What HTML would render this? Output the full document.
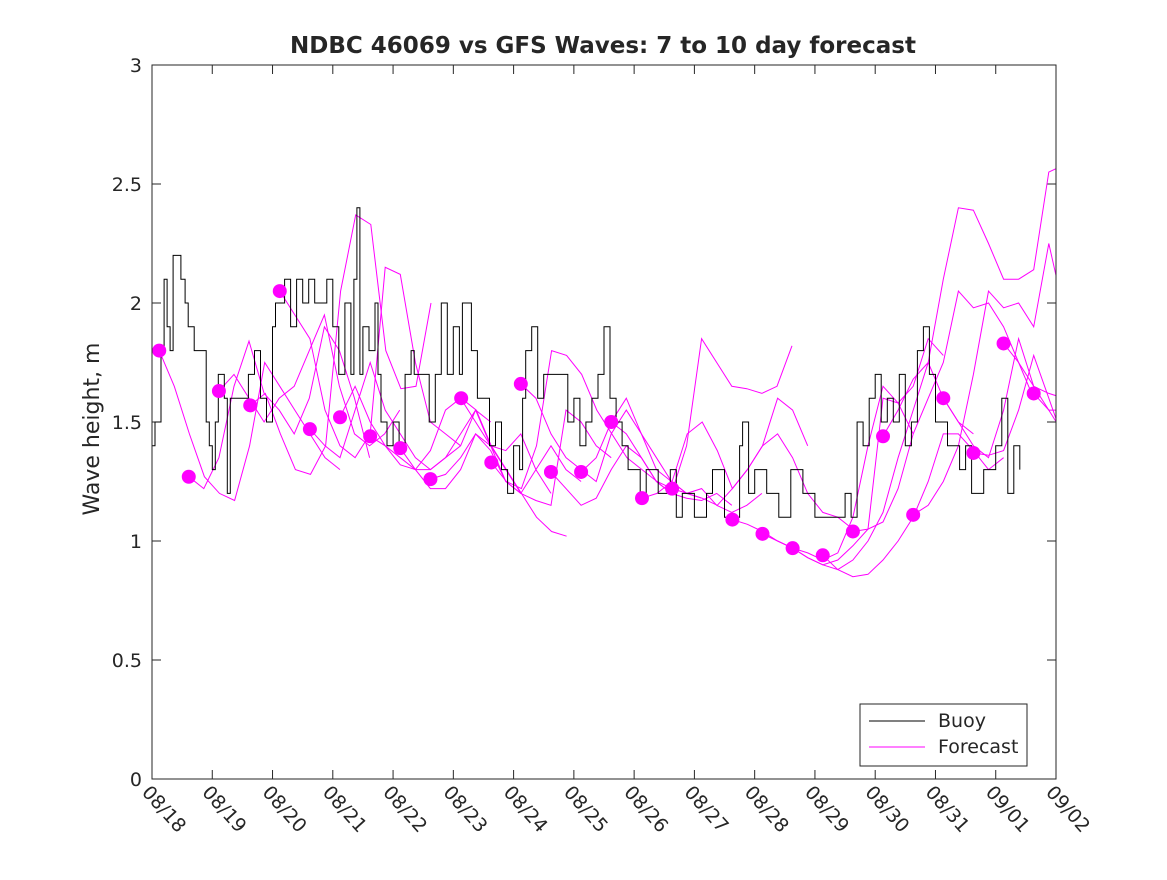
<!DOCTYPE html>
<html><head><meta charset="utf-8"><style>
body{margin:0;background:#fff}
svg text{font-family:"DejaVu Sans","Liberation Sans",sans-serif;fill:#262626}
</style></head><body>
<svg id="chart" width="1167" height="875" xmlns="http://www.w3.org/2000/svg">
<defs><clipPath id="pc"><rect x="152" y="65" width="904" height="714"/></clipPath></defs>
<rect x="0" y="0" width="1167" height="875" fill="#fff"/>
<rect x="152" y="65" width="904" height="714" fill="#fff"/>
<g id="grid"></g>
<g id="series" clip-path="url(#pc)"></g>
<rect x="152" y="65" width="904" height="714" fill="none" stroke="#262626" stroke-width="1"/>
<text x="603" y="53" text-anchor="middle" font-size="23" font-weight="bold" fill="#000">NDBC 46069 vs GFS Waves: 7 to 10 day forecast</text>
<text transform="translate(99,429) rotate(-90)" text-anchor="middle" font-size="22">Wave height, m</text>
<g>
<rect x="860" y="704" width="167" height="62" fill="#fff" stroke="#262626"/>
<line x1="869" y1="721" x2="925" y2="721" stroke="#000" stroke-width="1"/>
<text x="938" y="727" font-size="19">Buoy</text>
<line x1="869" y1="747" x2="925" y2="747" stroke="#f0f" stroke-width="1"/>
<text x="938" y="753" font-size="19">Forecast</text>
</g>
</svg>
<script>
const yTicks=[0,0.5,1,1.5,2,2.5,3];
const yTickLabels=["0","0.5","1","1.5","2","2.5","3"];
const xTickLabels=["08/18","08/19","08/20","08/21","08/22","08/23","08/24","08/25","08/26","08/27","08/28","08/29","08/30","08/31","09/01","09/02"];
const buoyTimes=[0,0.05,0.15,0.2,0.25,0.3,0.35,0.4,0.48,0.55,0.6,0.7,0.8,0.9,0.95,1.0,1.05,1.1,1.2,1.25,1.3,1.5,1.6,1.7,1.8,1.9,2.0,2.05,2.2,2.3,2.4,2.5,2.6,2.7,2.8,2.9,3.0,3.1,3.2,3.3,3.35,3.4,3.45,3.5,3.6,3.7,3.75,3.8,3.9,4.0,4.1,4.2,4.3,4.35,4.4,4.6,4.7,4.8,4.9,5.0,5.1,5.15,5.3,5.4,5.6,5.7,5.8,5.9,6.0,6.1,6.15,6.2,6.3,6.4,6.5,6.9,7.0,7.1,7.2,7.3,7.4,7.5,7.6,7.7,7.8,7.9,8.1,8.2,8.4,8.6,8.7,8.8,9.0,9.2,9.3,9.5,9.75,9.8,9.9,10.0,10.2,10.4,10.6,10.8,11.0,11.5,11.6,11.7,11.8,11.9,12.0,12.1,12.2,12.3,12.4,12.5,12.6,12.7,12.8,12.9,13.0,13.2,13.4,13.5,13.6,13.8,14.0,14.1,14.2,14.3,14.4];
const buoyValues=[1.4,1.5,1.8,2.1,1.9,1.8,2.2,2.2,2.1,2.0,1.9,1.8,1.8,1.5,1.4,1.3,1.5,1.7,1.6,1.2,1.6,1.6,1.7,1.8,1.6,1.5,1.9,2.0,2.1,1.9,2.1,2.0,2.1,2.0,2.0,2.1,1.9,1.7,2.0,1.7,2.1,2.4,1.7,1.9,1.8,2.0,1.7,1.5,1.4,1.5,1.4,1.7,1.8,1.7,1.7,1.5,1.7,2.0,1.7,1.9,1.7,2.0,1.8,1.6,1.4,1.5,1.3,1.2,1.4,1.3,1.6,1.8,1.9,1.6,1.7,1.5,1.6,1.4,1.5,1.6,1.7,1.9,1.6,1.5,1.4,1.3,1.2,1.3,1.2,1.3,1.1,1.2,1.1,1.2,1.3,1.1,1.4,1.5,1.2,1.3,1.2,1.1,1.3,1.2,1.1,1.2,1.1,1.5,1.4,1.6,1.7,1.5,1.6,1.5,1.7,1.4,1.5,1.8,1.9,1.7,1.5,1.4,1.3,1.4,1.2,1.3,1.4,1.6,1.2,1.4,1.3];
const fcStarts=[0.12,0.61,1.11,1.63,2.12,2.62,3.12,3.62,4.12,4.62,5.13,5.63,6.12,6.62,7.12,7.62,8.13,8.63,9.63,10.13,10.63,11.13,11.63,12.13,12.63,13.13,13.63,14.13,14.63];
const fcValues=[
[1.80,1.65,1.45,1.27,1.20,1.17,1.40,1.75,1.65,1.55,1.45,1.35,1.30],
[1.27,1.22,1.35,1.65,1.84,1.62,1.55,1.45,1.60,1.90,1.80,1.60,1.35],
[1.63,1.70,1.60,1.50,1.60,1.65,1.80,1.95,1.65,1.45,1.40,1.45,1.55],
[1.57,1.62,1.45,1.30,1.28,1.40,2.05,2.37,2.33,1.80,1.64,1.65,2.00],
[2.05,1.95,1.85,1.55,1.40,1.35,1.45,2.15,2.12,1.75,1.50,1.45,1.40],
[1.47,1.40,1.35,1.55,1.75,1.55,1.45,1.35,1.30,1.35,1.40,1.55,1.50],
[1.52,1.65,1.50,1.40,1.35,1.30,1.30,1.35,1.45,1.55,1.40,1.25,1.20],
[1.44,1.40,1.32,1.30,1.38,1.55,1.60,1.50,1.40,1.38,1.45,1.30,1.20],
[1.39,1.30,1.22,1.22,1.30,1.45,1.38,1.25,1.20,1.30,1.40,1.30,1.25],
[1.26,1.28,1.35,1.45,1.40,1.30,1.20,1.17,1.15,1.55,1.50,1.40,1.35],
[1.60,1.55,1.40,1.30,1.20,1.10,1.04,1.02],
[1.33,1.25,1.22,1.40,1.80,1.78,1.70,1.55,1.45,1.35,1.30,1.25,1.22],
[1.66,1.60,1.45,1.35,1.30,1.25,1.45,1.55,1.45,1.30,1.25,1.20,1.18],
[1.29,1.22,1.15,1.18,1.30,1.40,1.35,1.25,1.20,1.18,1.17,1.20,1.15],
[1.29,1.35,1.50,1.60,1.45,1.35,1.25,1.20,1.22,1.15,1.12,1.15,1.20],
[1.50,1.45,1.35,1.25,1.20,1.40,1.85,1.75,1.65,1.64,1.62,1.65,1.82],
[1.18,1.20,1.25,1.45,1.50,1.38,1.22,1.30,1.40,1.60,1.55,1.40],
[1.22,1.20,1.18,1.15,1.22,1.30,1.40,1.45,1.35,1.20,1.12,1.10,1.05],
[1.09,1.07,1.04,1.00,0.97,0.95,0.92,0.95,1.10,1.40,1.65,1.58,1.45],
[1.03,1.00,0.97,0.93,0.90,0.92,0.98,1.05,1.60,1.58,1.65,1.85,1.78],
[0.97,0.93,0.90,0.88,0.92,1.00,1.12,1.35,1.55,1.75,1.60,1.50,1.45],
[0.94,0.88,0.85,0.86,0.92,1.00,1.10,1.25,1.45,1.45,1.38,1.30,1.35],
[1.04,1.05,1.08,1.22,1.45,1.60,1.75,2.05,1.98,2.00,1.90,1.75,1.60],
[1.44,1.55,1.68,1.75,2.10,2.40,2.39,2.25,2.10,2.10,2.14,2.55,2.58],
[1.11,1.15,1.25,1.40,1.70,2.05,1.98,2.00,1.90,2.25,1.97,1.98,1.95],
[1.60,1.50,1.40,1.35,1.55,1.85,1.65,1.55,1.45,1.40,1.50,1.80,2.10],
[1.37,1.36,1.38,1.55,1.78,1.60,1.42,1.48,1.40,1.36,1.40,1.70],
[1.83,1.75,1.65,1.62,1.60],
[1.62,1.55,1.55,1.65]
];
const NS="http://www.w3.org/2000/svg";
const X0=152,X1=1056,Y0=779,Y1=65,DAYS=15,YMAX=3;
function xs(d){return X0+(X1-X0)*d/DAYS;}
function ys(v){return Y0-(Y0-Y1)*v/YMAX;}
function mk(tag,attrs,parent){const e=document.createElementNS(NS,tag);for(const k in attrs)e.setAttribute(k,attrs[k]);parent.appendChild(e);return e;}
const grid=document.getElementById('grid'),series=document.getElementById('series');
yTicks.forEach((v,i)=>{
 const y=ys(v);
 const a=mk('line',{x1:X0,x2:X0+9,y1:y,y2:y,stroke:'#262626'},grid);
 
 
 const b=mk('line',{x1:X1-9,x2:X1,y1:y,y2:y,stroke:'#262626'},grid);
 
 
 const t=mk('text',{x:X0-10,y:y+7,'text-anchor':'end','font-size':'19'},grid);
 t.textContent=yTickLabels[i];
 
 
});
xTickLabels.forEach((lab,i)=>{
 const x=xs(i);
 const a=mk('line',{x1:x,x2:x,y1:Y0,y2:Y0-9,stroke:'#262626'},grid);
 
 
 const b=mk('line',{x1:x,x2:x,y1:Y1,y2:Y1+9,stroke:'#262626'},grid);
 
 
 const t=mk('text',{transform:`translate(${x-11},${Y0+14}) rotate(48)`,'font-size':'19'},grid);
 t.textContent=lab;
 
 
});
fcStarts.forEach((s,i)=>{
 const pts=fcValues[i].map((v,k)=>xs(s+0.25*k).toFixed(1)+','+ys(v).toFixed(1)).join(' ');
 const p=mk('polyline',{points:pts,fill:'none',stroke:'#f0f','stroke-width':'1'},series);
 
 
});
let d='';
buoyTimes.forEach((t,i)=>{
 const x=xs(t).toFixed(1),y=ys(buoyValues[i]).toFixed(1);
 if(i===0)d+=`M${x},${y}`;else d+=`H${x}V${y}`;
});
const bp=mk('path',{d:d,fill:'none',stroke:'#000','stroke-width':'1'},series);


fcStarts.forEach((s,i)=>{
 const c=mk('circle',{cx:xs(s),cy:ys(fcValues[i][0]),r:7,fill:'#f0f'},series);
 
 
});
</script>
</body></html>
